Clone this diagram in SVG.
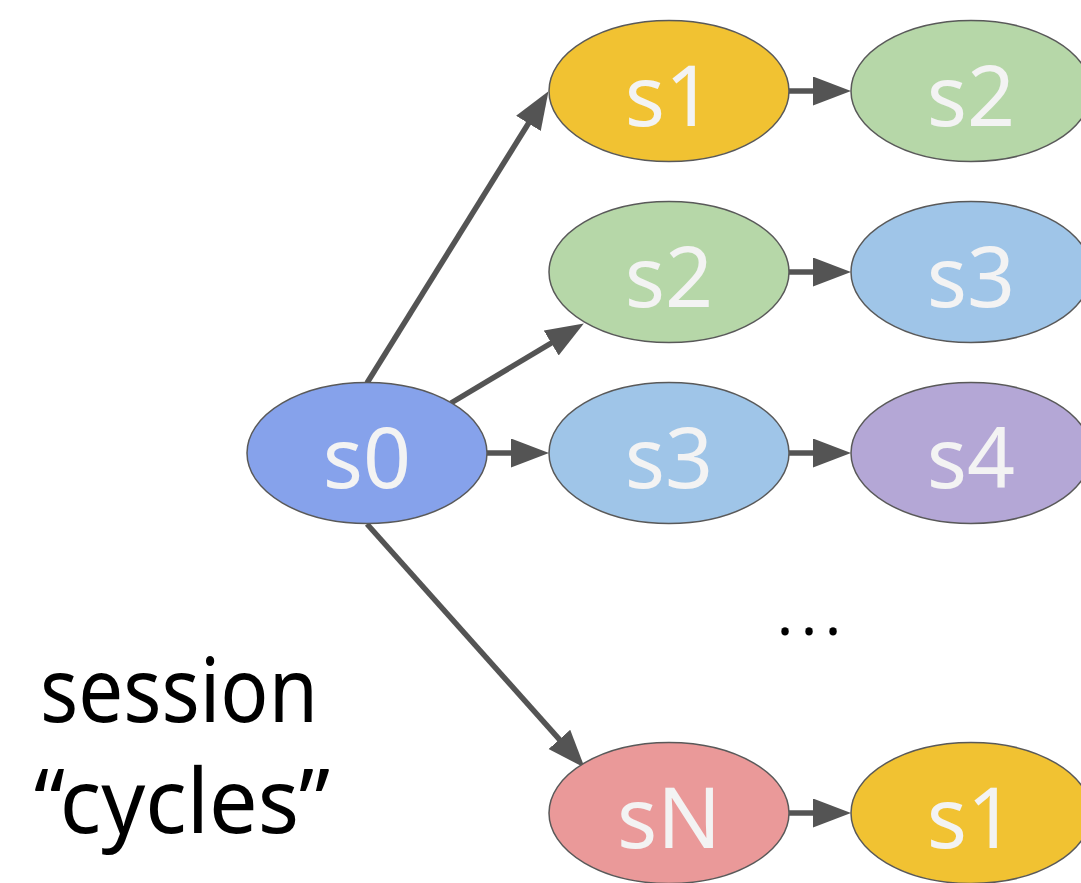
<svg xmlns="http://www.w3.org/2000/svg" width="1081" height="883" viewBox="0 0 1081 883">
<style>
.n{stroke:#595959;stroke-width:1.5}
.t{font-family:"Noto Sans","Open Sans",sans-serif;font-size:84px;fill:#f3f3f3;text-anchor:middle}
.c line{stroke:#545454;stroke-width:5.5;marker-end:url(#ah)}
.k{font-family:"Noto Sans","Open Sans",sans-serif;fill:#000}
</style>
<defs>
<marker id="ah" markerUnits="userSpaceOnUse" markerWidth="39" markerHeight="30" refX="17" refY="14.5" orient="auto"><path d="M0,0 L38,14.5 L0,29 Z" fill="#545454"/></marker>
</defs>
<rect width="1081" height="883" fill="#fff"/>
<g class="c" id="connectors">
<line x1="367" y1="383" x2="537.4" y2="109"/>
<line x1="451" y1="403" x2="565.8" y2="334.3"/>
<line x1="487" y1="453" x2="528" y2="453"/>
<line x1="367" y1="524" x2="570.7" y2="752.1"/>
<line x1="789" y1="91" x2="830" y2="91"/>
<line x1="789" y1="272" x2="830" y2="272"/>
<line x1="789" y1="453" x2="830" y2="453"/>
<line x1="789" y1="813" x2="830" y2="813"/>
</g>
<g id="s0"><ellipse class="n" cx="367" cy="453" rx="120" ry="70.5" fill="#86a2eb"/><text class="t" x="367" y="488">s0</text></g>
<g id="a_s1"><ellipse class="n" cx="669" cy="91" rx="120" ry="70.5" fill="#f1c232"/><text class="t" x="669" y="126">s1</text></g>
<g id="a_s2"><ellipse class="n" cx="669" cy="272" rx="120" ry="70.5" fill="#b6d7a8"/><text class="t" x="669" y="307">s2</text></g>
<g id="a_s3"><ellipse class="n" cx="669" cy="453" rx="120" ry="70.5" fill="#9fc5e8"/><text class="t" x="669" y="488">s3</text></g>
<g id="a_sN"><ellipse class="n" cx="669" cy="813" rx="120" ry="70.5" fill="#ea9999"/><text class="t" x="669" y="848">sN</text></g>
<g id="b_s2"><ellipse class="n" cx="971" cy="91" rx="120" ry="70.5" fill="#b6d7a8"/><text class="t" x="971" y="126">s2</text></g>
<g id="b_s3"><ellipse class="n" cx="971" cy="272" rx="120" ry="70.5" fill="#9fc5e8"/><text class="t" x="971" y="307">s3</text></g>
<g id="b_s4"><ellipse class="n" cx="971" cy="453" rx="120" ry="70.5" fill="#b4a7d6"/><text class="t" x="971" y="488">s4</text></g>
<g id="b_s1"><ellipse class="n" cx="971" cy="813" rx="120" ry="70.5" fill="#f1c232"/><text class="t" x="971" y="848">s1</text></g>
<g id="ellipsis"><text class="k" x="813" y="635" font-size="60" text-anchor="middle" letter-spacing="8">...</text></g>
<g id="label">
<text class="k" x="40" y="722" font-size="90" textLength="278" lengthAdjust="spacingAndGlyphs">session</text>
<text class="k" x="34" y="833" font-size="90" textLength="296" lengthAdjust="spacingAndGlyphs">“cycles”</text>
</g>
</svg>
